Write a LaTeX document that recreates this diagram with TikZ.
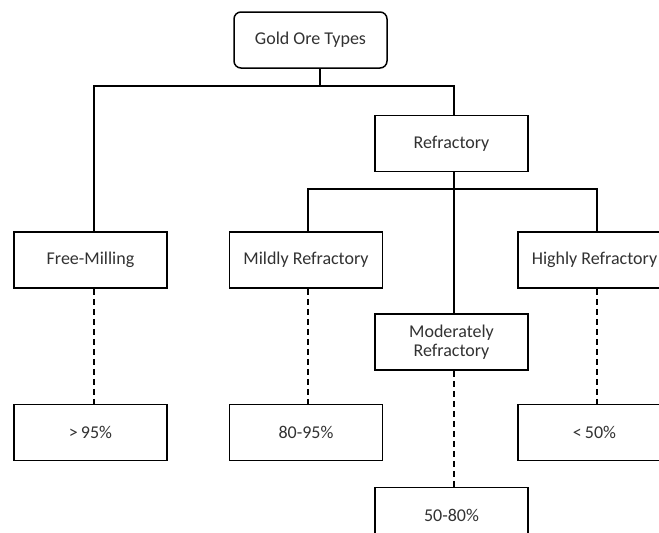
\documentclass[tikz,border=0pt]{standalone}
\usepackage{fontspec}
\setmainfont{Carlito}
\usepackage{tikz}
\usetikzlibrary{shapes,arrows,positioning,fit,backgrounds}
\definecolor{txtgray}{RGB}{50, 50, 50}
\tikzstyle{box} = [rectangle, draw=black, line width=1.5pt, fill=white, text=txtgray, text centered, align=center, font=\fontsize{18}{21}\selectfont, minimum width=153pt, minimum height=56pt, inner sep=0pt]
\tikzstyle{rootbox} = [box, rounded corners=7pt]
\tikzstyle{link} = [draw=black, line width=1.5pt]
\tikzstyle{dlink} = [link, dash pattern=on 6pt off 4pt]

\begin{document}
\begin{tikzpicture}[x=1pt, y=-1pt]

\clip (0,0) rectangle (659,533);
\fill[white] (0,0) rectangle (659,533);

% ore types =============================

% root
\node[rootbox] (gold) at (310.5,40) {Gold Ore Types};

% first level
\node[box] (free) at (90.5,260) {Free-Milling};
\node[box] (refr) at (451.5,143.5) {Refractory};

% refractory grades
\node[box, right=61pt of free] (mild) {Mildly Refractory};
\node[box, right=134pt of mild] (high) {Highly Refractory};
\node[box, below=141pt of refr] (mod) {Moderately\\[-2pt]Refractory};

% recoveries
\node[box, below=115pt of free] (p95) {{>}\,95\%};
\node[box, below=115pt of mild] (p80) {80-95\%};
\node[box, below=115pt of high] (p50) {{<}\,50\%};
\node[box, below=116pt of mod] (p58) {50-80\%};

% junctions
\coordinate (j1) at (320,86);
\coordinate (j2) at (454,189);

% edges root to first level
\draw[link] ([xshift=9.5pt]gold.south) -- (j1);
\draw[link] ([xshift=3.5pt]free.north) |- (j1) -| ([xshift=2.5pt]refr.north);

% edges refractory to grades
\draw[link] ([xshift=2.5pt]refr.south) -- ([xshift=2.5pt]mod.north);
\draw[link] ([xshift=2pt]mild.north) |- (j2) -| ([xshift=2.5pt]high.north);

% dashed edges to recoveries
\draw[dlink] ([xshift=3.5pt]free.south) -- ([xshift=3.5pt]p95.north);
\draw[dlink] ([xshift=2pt]mild.south) -- ([xshift=2pt]p80.north);
\draw[dlink] ([xshift=2.5pt]mod.south) -- ([xshift=2.5pt]p58.north);
\draw[dlink] ([xshift=2.5pt]high.south) -- ([xshift=2.5pt]p50.north);

\end{tikzpicture}
\end{document}
